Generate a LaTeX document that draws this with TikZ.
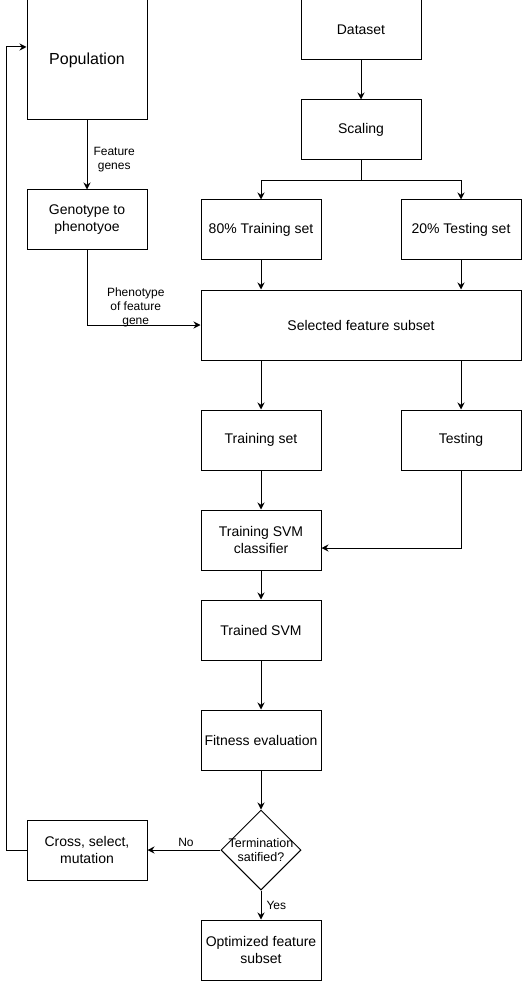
\documentclass[tikz,border=0pt]{standalone}
\usepackage{fontspec}
\setmainfont{Liberation Sans}
\usetikzlibrary{arrows.meta,shapes.geometric}
\begin{document}
\begin{tikzpicture}[x=1pt,y=-1pt,line width=1pt,
    >={Stealth[length=7pt,width=7pt]},
    font=\fontsize{14}{17}\selectfont,
    box/.style={draw,minimum width=120pt,minimum height=60pt,
        align=center,inner sep=2pt},
    lbl/.style={font=\fontsize{12}{14}\selectfont,align=center,inner sep=1pt}]
    \useasboundingbox (0,0) rectangle (522,981);

    % Genetic algorithm side.
    \node[box,minimum height=120pt,font=\fontsize{16}{19}\selectfont]
        (pop) at (87,60) {Population};
    \node[box] (geno) at (87,220) {Genotype to\\phenotyoe};
    \node[box] (cross) at (87,850) {Cross, select,\\mutation};

    % Data and SVM side.
    \node[box] (data) at (361,30) {Dataset};
    \node[box] (scal) at (361,130) {Scaling};
    \node[box] (tr80) at (261,230) {80\% Training set};
    \node[box] (te20) at (461,230) {20\% Testing set};
    \node[box,minimum width=320pt,minimum height=70pt]
        (sel) at (361,325) {Selected feature subset};
    \node[box] (trs) at (261,440) {Training set};
    \node[box] (tst) at (461,440) {Testing};
    \node[box] (svm) at (261,540) {Training SVM\\classifier};
    \node[box] (tsvm) at (261,630) {Trained SVM};
    \node[box] (fit) at (261,740) {Fitness evaluation};
    \node[draw,diamond,minimum width=80pt,minimum height=80pt,inner sep=0pt,
        label={[lbl,font=\fontsize{12.5}{14}\selectfont]center:Termination\\satified?}]
        (term) at (261,850) {};
    \node[box] (opt) at (261,950) {Optimized feature\\subset};

    % Connectors.
    \draw[->] (pop) -- (geno)
        node[lbl,pos=0.57,right=5pt] {Feature\\genes};
    \draw[->] (geno.south) |- (sel.west)
        node[lbl,pos=0.75,above,xshift=-8pt,yshift=-3pt]
        {Phenotype\\of feature\\gene};
    \draw[->] (data) -- (scal);
    \draw[->] (scal.south) -- ++(0,20) -| (tr80.north);
    \draw[->] (scal.south) -- ++(0,20) -| (te20.north);
    \draw[->] (tr80) -- (tr80 |- sel.north);
    \draw[->] (te20) -- (te20 |- sel.north);
    \draw[->] (trs |- sel.south) -- (trs);
    \draw[->] (tst |- sel.south) -- (tst);
    \draw[->] (trs) -- (svm);
    \draw[->] (tst.south) |- ([yshift=-8pt]svm.east);
    \draw[->] (svm) -- (tsvm);
    \draw[->] (tsvm) -- (fit);
    \draw[->] (fit) -- (term);
    \draw[->] (term) -- (cross)
        node[lbl,midway,above=2pt,xshift=2pt] {No};
    \draw[->] (term) -- (opt)
        node[lbl,midway,right=4pt] {Yes};
    \draw[->] (cross.west) -- ++(-20,0) |- ([yshift=13pt]pop.west);
\end{tikzpicture}
\end{document}
